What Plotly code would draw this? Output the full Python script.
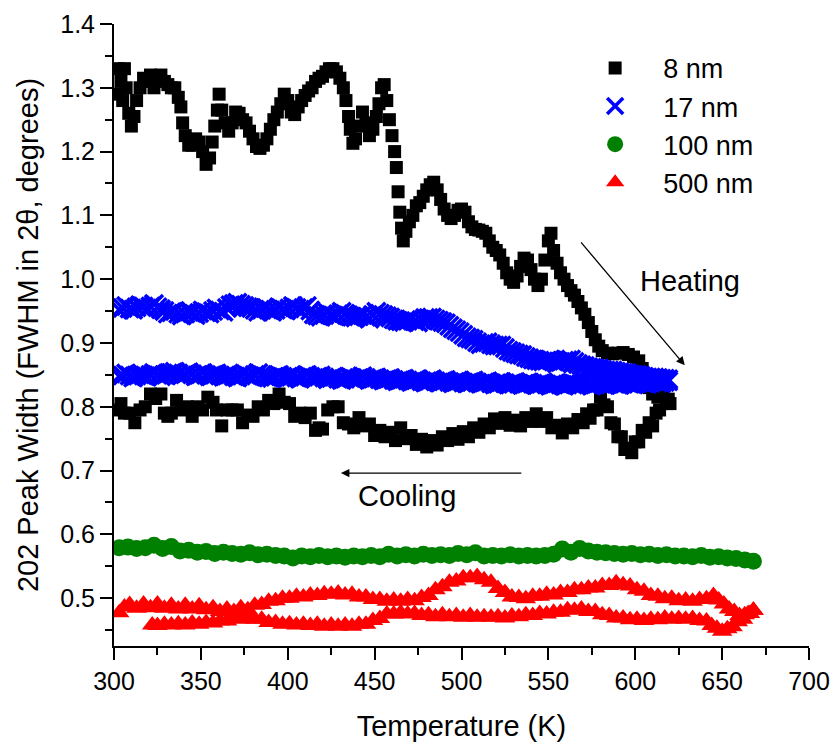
import plotly.graph_objects as go

# ---------------- 8 nm (heating, then cooling) ----------------
heat_8nm_T = [302.5, 303, 304, 305, 306, 307, 308.5, 310, 311.5, 313,
              315, 317, 319, 321, 323, 325, 327, 329, 331, 333,
              335, 337, 338.5, 339.5, 341, 343, 345, 347, 349, 351,
              353, 355, 356.5, 358, 359.5, 360.5, 362, 364, 366, 368,
              370, 372, 374, 376, 378, 380, 382, 384, 386, 388,
              390, 392, 394, 396, 398, 400, 402, 404, 406, 408,
              410, 412, 414, 416, 418, 420, 422, 424, 426, 428,
              430, 432, 433.5, 435, 436, 437.5, 439, 441, 443, 445,
              447, 449, 451, 452.5, 454, 455.5, 457, 458.5, 460, 461.5,
              462.5, 463.5, 464.5, 465.5, 466.5, 468, 470, 472, 474, 476,
              478, 480, 482, 484, 486, 488, 490, 492, 494, 496,
              498, 500, 502, 504, 506, 508, 510, 512, 514, 516,
              518, 520, 522, 524, 526, 528, 530, 532, 534, 536,
              538, 540, 542, 544, 546, 548, 550, 551.5, 553, 555,
              557, 559, 561, 563, 565, 567, 569, 571, 573, 575,
              577, 579, 581, 584, 587, 590, 593, 596, 599, 602,
              604, 606, 608, 610, 613, 616, 619]
heat_8nm_W = [1.33, 1.29, 1.31, 1.28, 1.33, 1.30, 1.26, 1.24, 1.255, 1.28,
              1.30, 1.315, 1.31, 1.32, 1.30, 1.315, 1.32, 1.31, 1.305, 1.30,
              1.30, 1.285, 1.27, 1.245, 1.225, 1.21, 1.21, 1.22, 1.215, 1.20,
              1.18, 1.19, 1.215, 1.24, 1.265, 1.29, 1.265, 1.245, 1.232, 1.245,
              1.262, 1.26, 1.25, 1.245, 1.232, 1.22, 1.208, 1.205, 1.21, 1.22,
              1.235, 1.25, 1.262, 1.275, 1.29, 1.28, 1.262, 1.258, 1.27, 1.28,
              1.288, 1.295, 1.30, 1.31, 1.315, 1.318, 1.325, 1.33, 1.33, 1.325,
              1.315, 1.30, 1.28, 1.255, 1.235, 1.213, 1.22, 1.24, 1.262, 1.245,
              1.225, 1.235, 1.255, 1.275, 1.30, 1.305, 1.28, 1.25, 1.225, 1.20,
              1.175, 1.137, 1.105, 1.08, 1.06, 1.075, 1.09, 1.10, 1.115, 1.12,
              1.13, 1.14, 1.148, 1.152, 1.14, 1.125, 1.11, 1.10, 1.095, 1.10,
              1.108, 1.11, 1.105, 1.09, 1.082, 1.078, 1.077, 1.075, 1.072, 1.06,
              1.05, 1.045, 1.038, 1.025, 1.01, 1.0, 0.995, 1.005, 1.02, 1.033,
              1.03, 1.015, 1.0, 0.99, 1.0, 1.03, 1.06, 1.072, 1.045, 1.025,
              1.01, 1.0, 0.99, 0.982, 0.975, 0.965, 0.955, 0.945, 0.932, 0.918,
              0.905, 0.895, 0.888, 0.884, 0.883, 0.884, 0.885, 0.882, 0.878, 0.872,
              0.86, 0.845, 0.83, 0.82, 0.815, 0.82, 0.812]

cool_8nm_T = [620, 618, 616, 614, 612, 610, 608, 606, 604, 602,
              600, 598, 596, 594, 592, 590, 588, 586, 584, 582,
              580, 578, 576, 574, 572, 570, 567, 564, 561, 558,
              555, 552, 549, 546, 543, 540, 537, 534, 531, 528,
              525, 522, 519, 516, 513, 510, 507, 504, 501, 498,
              495, 492, 489, 486, 483, 480, 477, 474, 471, 468,
              465, 462, 459, 456, 453, 450, 447, 444, 441, 438,
              435, 432, 429, 426, 423, 420, 418, 416, 413, 410,
              407, 404, 401, 398, 395, 392, 389, 386, 383, 380,
              377, 374, 371, 368, 365, 362, 359, 357, 354, 351,
              348, 345, 342, 339, 336, 333, 331, 329, 327, 324,
              321, 318, 315, 312, 309, 306, 304, 303]
cool_8nm_W = [0.805, 0.805, 0.82, 0.795, 0.79, 0.77, 0.775, 0.76, 0.763, 0.745,
              0.745, 0.728, 0.735, 0.733, 0.753, 0.753, 0.773, 0.775, 0.80, 0.803,
              0.815, 0.795, 0.795, 0.782, 0.789, 0.775, 0.78, 0.767, 0.773, 0.759,
              0.771, 0.767, 0.783, 0.777, 0.789, 0.777, 0.783, 0.77, 0.779, 0.771,
              0.783, 0.774, 0.781, 0.767, 0.773, 0.76, 0.767, 0.753, 0.761, 0.749,
              0.758, 0.747, 0.753, 0.74, 0.747, 0.737, 0.749, 0.741, 0.755, 0.75,
              0.767, 0.747, 0.76, 0.753, 0.763, 0.755, 0.773, 0.77, 0.783, 0.767,
              0.773, 0.775, 0.80, 0.80, 0.795, 0.765, 0.767, 0.763, 0.79, 0.783,
              0.79, 0.785, 0.805, 0.807, 0.82, 0.805, 0.81, 0.795, 0.80, 0.785,
              0.787, 0.775, 0.795, 0.795, 0.795, 0.77, 0.795, 0.807, 0.815, 0.795,
              0.80, 0.785, 0.80, 0.795, 0.81, 0.79, 0.785, 0.79, 0.82, 0.813,
              0.82, 0.80, 0.795, 0.775, 0.79, 0.79, 0.805, 0.795]

# ---------------- 17 nm (two branches, two interleaved sample sets) ----------------
nm17_T = [303, 307, 311, 315, 319, 323, 327, 331, 335, 339,
          343, 347, 351, 355, 359, 363, 367, 371, 375, 379,
          383, 387, 391, 395, 399, 403, 407, 411, 415, 419,
          423, 427, 431, 435, 439, 443, 447, 451, 455, 459,
          463, 467, 471, 475, 479, 483, 487, 491, 495, 499,
          503, 507, 511, 515, 519, 523, 527, 531, 535, 539,
          543, 547, 551, 555, 559, 563, 567, 571, 575, 579,
          583, 587, 591, 595, 599, 603, 607, 611, 615, 619]
nm17_upper_W = [0.952, 0.958, 0.952, 0.959, 0.954, 0.961, 0.953, 0.946, 0.950, 0.943,
                0.949, 0.944, 0.951, 0.946, 0.954, 0.949, 0.959, 0.963, 0.958, 0.955,
                0.949, 0.955, 0.949, 0.956, 0.951, 0.958, 0.952, 0.958, 0.945, 0.941,
                0.947, 0.942, 0.949, 0.943, 0.940, 0.944, 0.938, 0.949, 0.944, 0.940,
                0.935, 0.933, 0.937, 0.932, 0.939, 0.940, 0.935, 0.931, 0.923, 0.917,
                0.909, 0.905, 0.898, 0.901, 0.896, 0.896, 0.888, 0.884, 0.881, 0.876,
                0.873, 0.871, 0.874, 0.868, 0.872, 0.874, 0.867, 0.864, 0.861, 0.860,
                0.857, 0.857, 0.854, 0.853, 0.850, 0.849, 0.846, 0.846, 0.844, 0.843]
nm17_lower_W = [0.848, 0.852, 0.846, 0.851, 0.847, 0.853, 0.848, 0.852, 0.855, 0.849,
                0.854, 0.848, 0.853, 0.848, 0.852, 0.847, 0.851, 0.846, 0.852, 0.847,
                0.853, 0.848, 0.845, 0.850, 0.845, 0.849, 0.844, 0.850, 0.845, 0.849,
                0.843, 0.847, 0.842, 0.847, 0.843, 0.848, 0.842, 0.846, 0.841, 0.845,
                0.840, 0.844, 0.839, 0.843, 0.838, 0.843, 0.838, 0.842, 0.837, 0.841,
                0.837, 0.841, 0.836, 0.840, 0.835, 0.839, 0.835, 0.839, 0.834, 0.838,
                0.834, 0.838, 0.833, 0.837, 0.833, 0.837, 0.834, 0.838, 0.833, 0.837,
                0.834, 0.838, 0.834, 0.838, 0.835, 0.839, 0.836, 0.840, 0.837, 0.840]
nm17_T2 = [305, 309, 313, 317, 321, 325, 329, 333, 337, 341,
           345, 349, 353, 357, 361, 365, 369, 373, 377, 381,
           385, 389, 393, 397, 401, 405, 409, 413, 417, 421,
           425, 429, 433, 437, 441, 445, 449, 453, 457, 461,
           465, 469, 473, 477, 481, 485, 489, 493, 497, 501,
           505, 509, 513, 517, 521, 525, 529, 533, 537, 541,
           545, 549, 553, 557, 561, 565, 569, 573, 577, 581,
           585, 589, 593, 597, 601, 605, 609, 613, 617]
nm17_upper_W2 = [0.955, 0.954, 0.956, 0.957, 0.957, 0.956, 0.950, 0.948, 0.946, 0.946,
                 0.947, 0.947, 0.948, 0.950, 0.951, 0.955, 0.961, 0.960, 0.956, 0.952,
                 0.952, 0.952, 0.952, 0.953, 0.954, 0.955, 0.955, 0.951, 0.943, 0.944,
                 0.944, 0.945, 0.946, 0.941, 0.942, 0.941, 0.944, 0.946, 0.942, 0.937,
                 0.934, 0.935, 0.934, 0.936, 0.939, 0.937, 0.933, 0.927, 0.920, 0.913,
                 0.907, 0.901, 0.900, 0.898, 0.896, 0.892, 0.886, 0.882, 0.878, 0.874,
                 0.872, 0.872, 0.871, 0.870, 0.873, 0.870, 0.865, 0.862, 0.860, 0.858,
                 0.857, 0.855, 0.853, 0.851, 0.850, 0.847, 0.846, 0.845, 0.844]
nm17_lower_W2 = [0.849, 0.849, 0.849, 0.849, 0.850, 0.850, 0.850, 0.853, 0.852, 0.851,
                 0.851, 0.850, 0.850, 0.850, 0.849, 0.849, 0.848, 0.849, 0.849, 0.850,
                 0.850, 0.846, 0.847, 0.847, 0.847, 0.846, 0.847, 0.847, 0.847, 0.846,
                 0.845, 0.844, 0.844, 0.845, 0.845, 0.845, 0.844, 0.843, 0.843, 0.842,
                 0.842, 0.841, 0.841, 0.840, 0.840, 0.840, 0.840, 0.839, 0.839, 0.838,
                 0.839, 0.838, 0.838, 0.837, 0.836, 0.837, 0.837, 0.836, 0.836, 0.836,
                 0.836, 0.835, 0.835, 0.835, 0.835, 0.836, 0.836, 0.835, 0.835, 0.836,
                 0.836, 0.836, 0.836, 0.836, 0.837, 0.837, 0.838, 0.838, 0.839]

# ---------------- 100 nm ----------------
nm100_T = [303, 308, 313, 318, 323, 328, 333, 338, 343, 348,
           353, 358, 363, 368, 373, 378, 383, 388, 393, 398,
           403, 408, 413, 418, 423, 428, 433, 438, 443, 448,
           453, 458, 463, 468, 473, 478, 483, 488, 493, 498,
           503, 508, 513, 518, 523, 528, 533, 538, 543, 548,
           553, 558, 563, 568, 573, 578, 583, 588, 593, 598,
           603, 608, 613, 618, 623, 628, 633, 638, 643, 648,
           653, 658, 663, 668]
nm100_W = [0.579, 0.580, 0.578, 0.579, 0.583, 0.578, 0.581, 0.574, 0.575, 0.572,
           0.573, 0.570, 0.572, 0.570, 0.569, 0.571, 0.568, 0.569, 0.567, 0.566,
           0.563, 0.566, 0.565, 0.567, 0.565, 0.566, 0.564, 0.566, 0.565, 0.567,
           0.565, 0.569, 0.566, 0.568, 0.566, 0.569, 0.567, 0.568, 0.567, 0.570,
           0.568, 0.571, 0.566, 0.567, 0.566, 0.568, 0.566, 0.567, 0.566, 0.567,
           0.569, 0.577, 0.572, 0.578, 0.574, 0.572, 0.571, 0.570, 0.569, 0.570,
           0.568, 0.569, 0.567, 0.568, 0.566, 0.566, 0.565, 0.567, 0.564, 0.565,
           0.563, 0.562, 0.560, 0.558]

# ---------------- 500 nm (heating, then cooling) ----------------
heat_500_T = [303, 306, 309, 313, 317, 321, 325, 329, 333, 337,
              341, 345, 349, 353, 357, 361, 365, 369, 373, 377,
              381, 385, 389, 393, 397, 401, 405, 409, 413, 417,
              421, 425, 429, 433, 437, 441, 445, 449, 453, 457,
              461, 465, 469, 473, 477, 481, 485, 489, 493, 497,
              501, 505, 509, 513, 517, 521, 525, 529, 533, 537,
              541, 545, 549, 553, 557, 561, 565, 569, 573, 577,
              581, 585, 589, 593, 597, 601, 605, 609, 613, 617,
              621, 625, 629, 633, 637, 641, 645, 648, 651, 654,
              657, 660, 663, 666, 668]
heat_500_W = [0.477, 0.486, 0.490, 0.484, 0.491, 0.485, 0.491, 0.484, 0.489, 0.483,
              0.489, 0.483, 0.488, 0.482, 0.485, 0.479, 0.483, 0.479, 0.485, 0.482,
              0.489, 0.490, 0.495, 0.496, 0.500, 0.500, 0.503, 0.502, 0.505, 0.504,
              0.507, 0.506, 0.508, 0.505, 0.506, 0.502, 0.502, 0.498, 0.498, 0.495,
              0.497, 0.495, 0.498, 0.496, 0.501, 0.504, 0.513, 0.518, 0.525, 0.527,
              0.532, 0.532, 0.534, 0.529, 0.525, 0.515, 0.509, 0.502, 0.501, 0.499,
              0.503, 0.503, 0.506, 0.505, 0.509, 0.509, 0.513, 0.513, 0.516, 0.516,
              0.520, 0.520, 0.524, 0.521, 0.519, 0.513, 0.511, 0.504, 0.503, 0.499,
              0.500, 0.496, 0.497, 0.495, 0.498, 0.499, 0.504, 0.497, 0.491, 0.483,
              0.479, 0.473, 0.474, 0.476, 0.481]

cool_500_T = [668, 665, 662, 659, 656, 653, 650, 647, 644, 641,
              637, 633, 629, 625, 621, 617, 613, 609, 605, 601,
              597, 593, 589, 585, 581, 577, 573, 569, 565, 561,
              557, 553, 549, 545, 541, 537, 533, 529, 525, 521,
              517, 513, 509, 505, 501, 497, 493, 489, 485, 481,
              477, 473, 469, 465, 461, 457, 453, 449, 445, 441,
              437, 433, 429, 425, 421, 417, 413, 409, 405, 401,
              397, 393, 389, 385, 381, 377, 373, 369, 365, 361,
              357, 353, 349, 345, 341, 337, 333, 329, 325, 322]
cool_500_W = [0.481, 0.476, 0.467, 0.463, 0.455, 0.452, 0.448, 0.453, 0.457, 0.464,
              0.465, 0.468, 0.467, 0.468, 0.467, 0.469, 0.466, 0.467, 0.465, 0.467,
              0.466, 0.469, 0.469, 0.473, 0.474, 0.479, 0.479, 0.483, 0.481, 0.482,
              0.478, 0.478, 0.475, 0.476, 0.473, 0.474, 0.471, 0.472, 0.469, 0.471,
              0.470, 0.471, 0.470, 0.473, 0.470, 0.473, 0.471, 0.474, 0.471, 0.474,
              0.473, 0.476, 0.475, 0.477, 0.475, 0.475, 0.468, 0.465, 0.459, 0.459,
              0.456, 0.458, 0.456, 0.458, 0.456, 0.459, 0.457, 0.459, 0.458, 0.460,
              0.459, 0.462, 0.462, 0.467, 0.467, 0.470, 0.467, 0.468, 0.464, 0.464,
              0.461, 0.462, 0.459, 0.461, 0.458, 0.460, 0.458, 0.459, 0.457, 0.458]

series = [
    ("8 nm", heat_8nm_T + cool_8nm_T, heat_8nm_W + cool_8nm_W,
     dict(symbol="square", size=13, color="#000000")),
    ("17 nm", nm17_T + nm17_T2 + nm17_T + nm17_T2,
     nm17_upper_W + nm17_upper_W2 + nm17_lower_W + nm17_lower_W2,
     dict(symbol="x-thin", size=18, color="#0000FF",
          line=dict(color="#0000FF", width=3.5))),
    ("100 nm", nm100_T, nm100_W,
     dict(symbol="circle", size=17, color="#008000")),
    ("500 nm", heat_500_T + cool_500_T, heat_500_W + cool_500_W,
     dict(symbol="triangle-up", size=18, color="#FF0000")),
]

fig = go.Figure()
for name, xs, ys, mk in series:
    assert len(xs) == len(ys), name
    fig.add_trace(go.Scatter(x=xs, y=ys, mode="markers", name=name, marker=mk))

FONT = "Liberation Sans, Arial, Helvetica, sans-serif"
axis_common = dict(showline=True, linewidth=2, linecolor="black", mirror=False,
                   ticks="outside", ticklen=12, tickwidth=2, tickcolor="black",
                   showgrid=False, zeroline=False, automargin=False,
                   tickfont=dict(size=25, family=FONT, color="black"))

fig.update_xaxes(range=[300, 700], tick0=300, dtick=50,
                 minor=dict(ticks="outside", dtick=25, tick0=300, ticklen=7,
                            tickwidth=2, tickcolor="black"),
                 title=dict(text="Temperature (K)", standoff=24,
                            font=dict(size=29, family=FONT, color="black")),
                 **axis_common)
fig.update_yaxes(range=[0.425, 1.4], tick0=0, dtick=0.1, tickformat=".1f",
                 minor=dict(ticks="outside", dtick=0.05, tick0=0, ticklen=7,
                            tickwidth=2, tickcolor="black"),
                 title=dict(text="202 Peak Width (FWHM in 2θ, degrees)", standoff=13,
                            font=dict(size=29, family=FONT, color="black")),
                 **axis_common)

fig.update_layout(
    width=833, height=742,
    margin=dict(l=114, r=24, t=24, b=96, autoexpand=False),
    plot_bgcolor="white", paper_bgcolor="white",
    font=dict(family=FONT, color="black"),
    legend=dict(x=0.652, y=0.968, xanchor="left", yanchor="top",
                bgcolor="rgba(0,0,0,0)", font=dict(size=27, family=FONT),
                itemwidth=86, tracegroupgap=0),
    annotations=[
        dict(x=628.5, y=0.865, ax=568.1, ay=1.06, xref="x", yref="y",
             axref="x", ayref="y", text="", showarrow=True,
             arrowhead=2, arrowsize=1.3, arrowwidth=1.3, arrowcolor="black"),
        dict(x=631.4, y=0.997, xref="x", yref="y", text="Heating",
             showarrow=False, font=dict(size=29, family=FONT, color="black")),
        dict(x=430.6, y=0.696, ax=535.3, ay=0.696, xref="x", yref="y",
             axref="x", ayref="y", text="", showarrow=True,
             arrowhead=2, arrowsize=1.3, arrowwidth=1.3, arrowcolor="black"),
        dict(x=468.6, y=0.660, xref="x", yref="y", text="Cooling",
             showarrow=False, font=dict(size=29, family=FONT, color="black")),
    ],
)

fig.write_html(
    "out.html",
    config={"displayModeBar": False},
    post_script="document.body.style.margin='0';document.body.style.overflow='hidden';",
)
